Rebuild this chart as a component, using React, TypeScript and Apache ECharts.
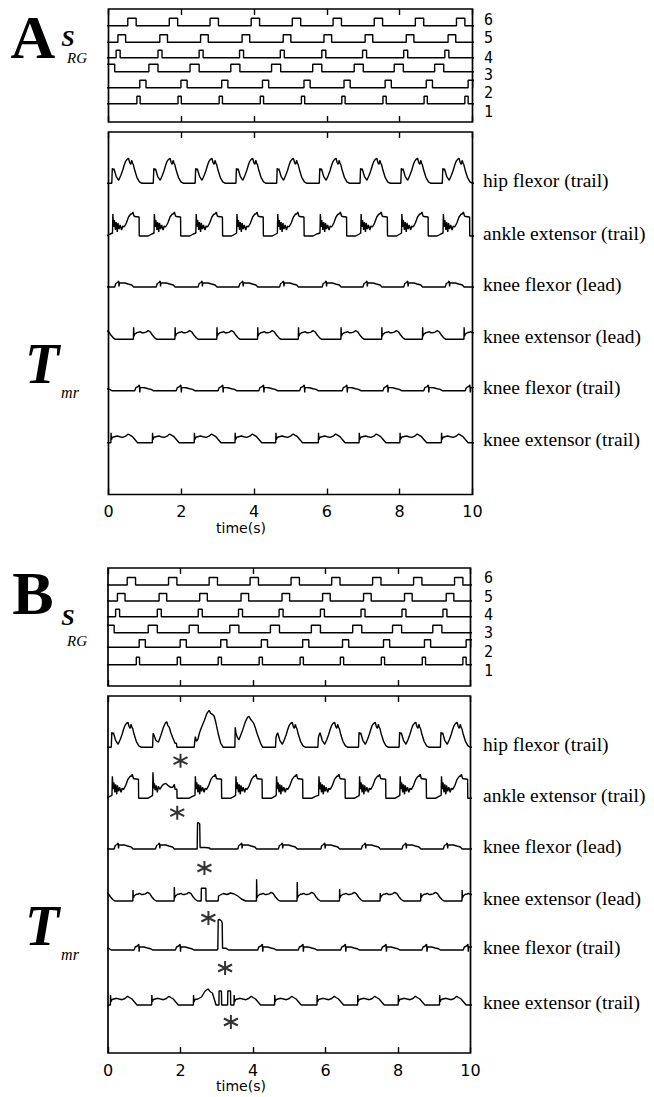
import React, { useEffect, useRef } from "react";
import * as echarts from "echarts";

// ---------------- DATA ----------------
const timeMin = 0;
const timeMax = 10;
const timeStep = 2;

// rhythm-generator rows (top to bottom): pulse onsets (s) and pulse widths (s)
const srgRowLabels = ["6", "5", "4", "3", "2", "1"];
const srgOnsets6 = [0.53, 1.67, 2.79, 3.92, 5.05, 6.17, 7.3, 8.43, 9.56];
const srgOnsets5 = [0.26, 1.41, 2.53, 3.67, 4.8, 5.92, 7.05, 8.18, 9.33];
const srgOnsets4 = [0.21, 1.36, 2.49, 3.6, 4.72, 5.86, 6.98, 8.11, 9.24];
const srgOnsets3 = [-0.08, 1.11, 2.24, 3.36, 4.48, 5.61, 6.75, 7.85, 8.96];
const srgOnsets2 = [0.86, 1.99, 3.11, 4.23, 5.37, 6.47, 7.6, 8.73, 9.88];
const srgOnsets1 = [0.78, 1.91, 3.04, 4.17, 5.3, 6.41, 7.54, 8.67, 9.79];
const srgPulseWidths = [0.23, 0.21, 0.11, 0.25, 0.17, 0.09];

// muscle torque traces
const muscleLabels = [
  "hip flexor (trail)",
  "ankle extensor (trail)",
  "knee flexor (lead)",
  "knee extensor (lead)",
  "knee flexor (trail)",
  "knee extensor (trail)",
];

// step-cycle onsets (s)
const cycleOnsetsA = [-1.05, 0.09, 1.23, 2.38, 3.5, 4.62, 5.79, 6.91, 8.03, 9.17];
const cycleOnsetsB = [-1.05, 0.09, 1.23, 2.38, 3.5, 4.62, 5.79, 6.91, 8.03, 9.17];

// one step cycle of each trace: [phase (s), torque (arb.)]
const hipCycle = [
  [0, 0], [0.015, 15], [0.04, 13], [0.06, 14.5], [0.08, 12], [0.12, 7], [0.19, 3], [0.25, 8],
  [0.3, 13], [0.34, 18], [0.38, 22], [0.42, 24], [0.46, 25], [0.49, 21], [0.52, 19], [0.55, 23],
  [0.57, 20], [0.59, 19], [0.63, 13], [0.69, 6], [0.76, 1.5], [0.83, 0],
];
const ankleCycle = [
  [0.02, 3], [0.03, 22], [0.05, 9], [0.07, 16], [0.1, 6], [0.12, 14], [0.15, 4], [0.17, 13],
  [0.2, 7], [0.23, 11], [0.27, 6], [0.3, 10], [0.34, 9], [0.4, 13], [0.46, 19], [0.52, 22],
  [0.55, 22], [0.58, 24], [0.61, 20], [0.63, 19.5], [0.75, 19], [0.755, 0], [1.0, 0], [1.1, 2],
];
const kneeFlexLeadCycle = [
  [0.08, 0], [0.11, 3.5], [0.16, 4.5], [0.19, 6], [0.2, 0.5], [0.21, 4], [0.36, 4], [0.45, 3],
  [0.55, 2], [0.6, 0],
];
const kneeExtLeadCycle = [
  [0.595, 0], [0.6, 12], [0.61, 3], [0.63, 5], [0.69, 6.7], [0.74, 7], [0.78, 7.7], [0.83, 6.5],
  [0.87, 6.5], [0.94, 7.2], [1.0, 8.7], [1.06, 7.3], [1.12, 4], [1.18, 1.5], [1.24, 0],
];
const kneeFlexTrailCycle = [
  [0.63, 0], [0.66, 3], [0.72, 4], [0.76, 5.7], [0.77, -1.7], [0.78, 3.3], [0.9, 3], [1.0, 2],
  [1.08, 1.3], [1.14, 0],
];
const kneeExtTrailCycle = [
  [-0.025, 0], [-0.02, 10], [-0.01, 3], [0.02, 5.5], [0.07, 6], [0.15, 6.7], [0.22, 6], [0.3, 5.3],
  [0.38, 6.5], [0.45, 8.7], [0.5, 7.5], [0.57, 6], [0.64, 3], [0.71, 0],
];

// perturbed cycles in panel B (index into cycleOnsetsB)
const hipB2 = [
  [0, 0], [0.015, 14], [0.05, 11], [0.09, 7], [0.16, 5], [0.23, 12], [0.3, 20], [0.35, 24],
  [0.39, 25.7], [0.42, 22], [0.46, 20], [0.5, 15], [0.55, 10], [0.62, 4], [0.66, 4], [0.67, 0],
];
const hipB3 = [
  [0, 0], [0.01, 5], [0.03, 10.7], [0.06, 6], [0.1, 8], [0.14, 14], [0.2, 20], [0.28, 27],
  [0.35, 34], [0.41, 37], [0.45, 34], [0.5, 33], [0.55, 31], [0.6, 24], [0.67, 12], [0.73, 4], [0.8, 0],
];
const hipB4 = [
  [0, 0], [0.01, 20], [0.03, 14], [0.06, 10.7], [0.11, 7.3], [0.2, 15.7], [0.29, 25.7], [0.35, 30],
  [0.39, 31], [0.43, 28], [0.46, 27], [0.52, 24], [0.56, 20], [0.61, 14], [0.71, 4], [0.77, 0],
];
const hipSpikesB = [15, 15, 14, 10.7, 20, 10, 10, 15, 15, 15];
const ankleB2 = [
  [0.0, 3], [0.01, 26], [0.03, 10], [0.05, 15], [0.07, 8], [0.1, 13], [0.13, 6], [0.16, 12],
  [0.2, 9], [0.25, 12], [0.3, 14], [0.36, 15], [0.42, 13], [0.5, 11], [0.56, 11], [0.6, 14],
  [0.62, 9], [0.67, 9], [0.675, 0], [1.0, 0], [1.1, 2],
];
const kneeFlexLeadB3 = [
  [0.08, 0], [0.09, 25.7], [0.11, 26.5], [0.15, 25], [0.16, 1.5], [0.3, 1.5], [0.42, 1], [0.44, 0],
];
const kneeExtLeadB3 = [
  [0.19, 0], [0.195, 12.7], [0.32, 12.7], [0.325, 0], [0.66, 0], [0.67, 5], [0.72, 6], [0.8, 7.5],
  [0.9, 6.5], [1.0, 8], [1.1, 7], [1.2, 5], [1.3, 2], [1.42, 0],
];
const kneeExtLeadSpikesB = [12, 11, 14, 0, 21.7, 19, 12, 8, 8, 11];
const kneeFlexTrailB3 = [
  [0.63, 0], [0.65, 1], [0.66, 30], [0.7, 30.5], [0.75, 29], [0.77, 27], [0.78, 1.7], [0.88, 1.7], [0.95, 0],
];
const kneeExtTrailB3 = [
  [-0.025, 0], [-0.02, 10], [-0.01, 3], [0.02, 5.5], [0.1, 6], [0.2, 8], [0.3, 14], [0.38, 16],
  [0.45, 13], [0.5, 12], [0.55, 6], [0.6, 0], [0.68, 0], [0.685, 14], [0.75, 14], [0.755, 0],
  [0.92, 0], [0.925, 14], [1.0, 14], [1.005, 0],
];

// asterisks marking the perturbation (time, s), one per trace
const starTimes = [2.0, 1.91, 2.66, 2.77, 3.23, 3.39];

// ---------------- LAYOUT ----------------
const PANELS = [
  {
    letter: "A", letterY: 36.5, left: 108.5, width: 364,
    srgTop: 9, srgH: 113, srgBase: [16.7, 33.3, 48.7, 62.7, 78.7, 94.7], srgLabelY: [11, 29, 48.7, 66, 84, 103],
    tmrTop: 132, tmrH: 362.5, tmrBase: [51.3, 104, 155, 207.3, 258.7, 310.7],
    sY: 38, rgY: 58, tY: 364, mrY: 392,
  },
  {
    letter: "B", letterY: 593, left: 108, width: 362.5,
    srgTop: 568, srgH: 118, srgBase: [17, 33, 48.7, 64.7, 79.3, 96.7], srgLabelY: [10, 28.7, 47, 65, 83.7, 102.7],
    tmrTop: 696, tmrH: 357, tmrBase: [51.3, 102.3, 153, 205, 254, 309],
    sY: 617, rgY: 641, tY: 926, mrY: 954,
  },
];
const PULSE_H = 7.5;
const starDrop = [13.4, 14.4, 19, 17, 18, 17];

// ---------------- HELPERS ----------------
type Pt = number[];
function buildTrace(onsets: number[], cycle: Pt[], overrides: Record<number, Pt[]> = {}, spikeIdx = -1, spikes: number[] | null = null): Pt[] {
  const pts: Pt[] = [[-3, 0]];
  onsets.forEach((t0, i) => {
    const ov = overrides[i];
    const use = ov || cycle;
    use.forEach(([p, a], k) => {
      let amp = a;
      if (!ov && spikes && k === spikeIdx) amp = spikes[i];
      pts.push([t0 + p, amp]);
    });
  });
  pts.push([13, 0]);
  return pts;
}
function buildPulses(onsets: number[], w: number): Pt[] {
  const pts: Pt[] = [[-3, 0]];
  onsets.forEach((t) => {
    pts.push([t, 0], [t, 1], [t + w, 1], [t + w, 0]);
  });
  pts.push([13, 0]);
  return pts;
}

const srgOnsets = [srgOnsets6, srgOnsets5, srgOnsets4, srgOnsets3, srgOnsets2, srgOnsets1];

const tracesA = [
  buildTrace(cycleOnsetsA, hipCycle),
  buildTrace(cycleOnsetsA, ankleCycle),
  buildTrace(cycleOnsetsA, kneeFlexLeadCycle),
  buildTrace(cycleOnsetsA, kneeExtLeadCycle),
  buildTrace(cycleOnsetsA, kneeFlexTrailCycle),
  buildTrace(cycleOnsetsA, kneeExtTrailCycle),
];
const tracesB = [
  buildTrace(cycleOnsetsB, hipCycle, { 2: hipB2, 3: hipB3, 4: hipB4 }, 1, hipSpikesB),
  buildTrace(cycleOnsetsB, ankleCycle, { 2: ankleB2 }),
  buildTrace(cycleOnsetsB, kneeFlexLeadCycle, { 3: kneeFlexLeadB3 }),
  buildTrace(cycleOnsetsB, kneeExtLeadCycle, { 3: kneeExtLeadB3 }, 1, kneeExtLeadSpikesB),
  buildTrace(cycleOnsetsB, kneeFlexTrailCycle, { 3: kneeFlexTrailB3 }),
  buildTrace(cycleOnsetsB, kneeExtTrailCycle, { 3: kneeExtTrailB3 }),
];

const STAR_PATH = "path://M10,0L10,20M1.34,5L18.66,15M1.34,15L18.66,5";

function buildOption() {
  const grid: any[] = [];
  const xAxis: any[] = [];
  const yAxis: any[] = [];
  const series: any[] = [];
  const graphic: any[] = [];

  const lineSeries = (data: Pt[], gi: number) => ({
    type: "line",
    xAxisIndex: gi * 2,
    yAxisIndex: gi,
    data,
    showSymbol: false,
    symbol: "none",
    clip: true,
    silent: true,
    lineStyle: { color: "#000", width: 1.4 },
  });

  PANELS.forEach((P, pi) => {
    const specs = [
      { top: P.srgTop, h: P.srgH, labels: false },
      { top: P.tmrTop, h: P.tmrH, labels: true },
    ];
    specs.forEach((s, si) => {
      const gi = pi * 2 + si;
      grid.push({
        left: P.left, top: s.top, width: P.width, height: s.h,
        show: true, borderColor: "#000", borderWidth: 1.7, backgroundColor: "transparent",
      });
      ["bottom", "top"].forEach((pos) => {
        xAxis.push({
          type: "value", gridIndex: gi, position: pos, min: timeMin, max: timeMax, interval: timeStep,
          axisLine: { show: false },
          axisTick: { show: true, inside: true, length: 6, lineStyle: { color: "#000", width: 1.4 } },
          axisLabel: s.labels && pos === "bottom"
            ? { show: true, margin: 9, color: "#000", fontSize: 16, fontFamily: "DejaVu Sans", lineHeight: 16 }
            : { show: false },
          splitLine: { show: false },
        });
      });
      yAxis.push({ type: "value", gridIndex: gi, min: 0, max: s.h, show: false });
    });

    // SRG rows
    const gS = pi * 2;
    srgOnsets.forEach((ons, r) => {
      const base = P.srgH - P.srgBase[r];
      const d = buildPulses(ons, srgPulseWidths[r]).map(([t, v]) => [t, base + v * PULSE_H]);
      series.push(lineSeries(d, gS));
      graphic.push({
        type: "text", x: 484, y: P.srgTop + P.srgLabelY[r],
        style: { text: srgRowLabels[r], fontFamily: "DejaVu Sans Mono", fontSize: 15, fill: "#000", align: "left", verticalAlign: "middle" },
      });
    });

    // Torque traces
    const gT = pi * 2 + 1;
    const traces = pi === 0 ? tracesA : tracesB;
    traces.forEach((tr, k) => {
      const base = P.tmrH - P.tmrBase[k];
      series.push(lineSeries(tr.map(([t, a]) => [t, base + a]), gT));
      graphic.push({
        type: "text", x: 483, y: P.tmrTop + P.tmrBase[k] - 3,
        style: { text: muscleLabels[k], fontFamily: "Liberation Serif", fontSize: 19.5, fill: "#000", align: "left", verticalAlign: "middle" },
      });
    });

    if (pi === 1) {
      series.push({
        type: "scatter", xAxisIndex: gT * 2, yAxisIndex: gT, silent: true,
        symbol: STAR_PATH, symbolSize: 14,
        itemStyle: { color: "transparent", borderColor: "#000", borderWidth: 2 },
        data: starTimes.map((t, k) => [t, P.tmrH - P.tmrBase[k] - starDrop[k]]),
      });
    }

    // panel letter and axis symbols
    graphic.push(
      { type: "text", x: 33, y: P.letterY, style: { text: P.letter, fontFamily: "Liberation Serif", fontWeight: "bold", fontSize: 62, fill: "#000", align: "center", verticalAlign: "middle" } },
      { type: "text", x: 68, y: P.sY, style: { text: "S", fontFamily: "Liberation Serif", fontStyle: "italic", fontWeight: "bold", fontSize: 24, lineHeight: 20, fill: "#000", align: "center", verticalAlign: "middle" } },
      { type: "text", x: 77, y: P.rgY, style: { text: "RG", fontFamily: "Liberation Serif", fontStyle: "italic", fontSize: 15, lineHeight: 13, fill: "#000", align: "center", verticalAlign: "middle" } },
      { type: "text", x: 42, y: P.tY, style: { text: "T", fontFamily: "Liberation Serif", fontStyle: "italic", fontWeight: "bold", fontSize: 56, fill: "#000", align: "center", verticalAlign: "middle" } },
      { type: "text", x: 70, y: P.mrY, style: { text: "mr", fontFamily: "Liberation Serif", fontStyle: "italic", fontSize: 16, fill: "#000", align: "center", verticalAlign: "middle" } },
      { type: "text", x: 241, y: P.tmrTop + P.tmrH + 33, style: { text: "time(s)", fontFamily: "DejaVu Sans", fontSize: 14, lineHeight: 14, fill: "#000", align: "center", verticalAlign: "middle" } },
    );
  });

  return { animation: false, backgroundColor: "#fff", grid, xAxis, yAxis, series, graphic };
}

export default function App() {
  const ref = useRef<HTMLDivElement>(null);
  useEffect(() => {
    if (!ref.current) return;
    const chart = echarts.init(ref.current, undefined, { renderer: "svg" });
    chart.setOption(buildOption() as any);
    return () => chart.dispose();
  }, []);
  return <div ref={ref} style={{ position: "fixed", left: 0, top: 0, width: 654, height: 1097, background: "#fff" }} />;
}
